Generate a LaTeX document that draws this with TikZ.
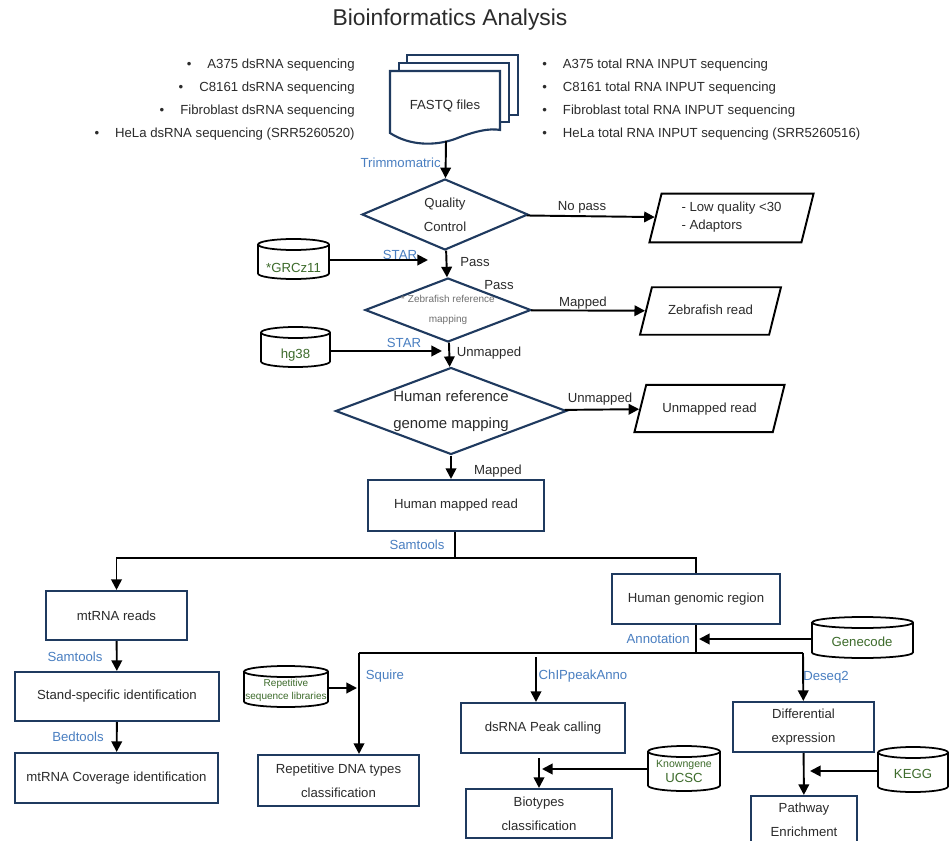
\documentclass[tikz,border=0pt]{standalone}
\usepackage{fontspec}
\setmainfont{Liberation Sans}
\usetikzlibrary{shapes.geometric,arrows.meta}

\definecolor{boxnavy}{HTML}{1F3A5F}
\definecolor{toolblue}{HTML}{4A7FC1}
\definecolor{dbgreen}{HTML}{3D6B2B}
\definecolor{bodygray}{HTML}{2B2B2B}
\definecolor{notegray}{HTML}{707070}

\tikzset{
  base/.style={font=\fontsize{7.5}{13.5}\selectfont, text=bodygray, inner sep=0pt, align=center},
  procbox/.style={base, draw=boxnavy, line width=1.2pt, rectangle},
  decision/.style={base, draw=boxnavy, line width=1.2pt, diamond, aspect=2.6},
  dataout/.style={base, draw=black, line width=1.1pt, trapezium, trapezium left angle=76, trapezium right angle=104,
    text height=5.5pt, text depth=1.5pt, inner ysep=6.3pt},
  dbslot/.style={rectangle, inner sep=0pt},
  dbline/.style={draw=black, fill=white, line width=1pt},
  dbname/.style={base, text=dbgreen},
  tool/.style={font=\fontsize{7.5}{9}\selectfont, text=toolblue, inner sep=0pt},
  edge/.style={font=\fontsize{7.5}{9}\selectfont, text=bodygray, inner sep=0pt},
  flow/.style={-{Triangle[length=6pt,width=6pt]}, line width=1.1pt},
}

% database drum: name, centre x, centre y, width, height (px)
\newcommand{\drum}[5]{%
  \node[dbslot, minimum width=#4*0.02cm, minimum height=#5*0.02cm] (#1) at (#2,#3) {};
  \filldraw[dbline] ({#2-#4/2},{#3-#5/2+5.5}) -- ({#2-#4/2},{#3+#5/2-5.5})
    arc[start angle=180, end angle=360, x radius=#4*0.01cm, y radius=0.11cm]
    -- ({#2+#4/2},{#3-#5/2+5.5})
    arc[start angle=0, end angle=180, x radius=#4*0.01cm, y radius=0.11cm]
    arc[start angle=180, end angle=360, x radius=#4*0.01cm, y radius=0.11cm];
}

\begin{document}
\begin{tikzpicture}[x=0.02cm, y=-0.02cm]
  \useasboundingbox (0,0) rectangle (950,841);
  \fill[white] (0,0) rectangle (950,841);

  \node[font=\fontsize{13}{15}\selectfont, text=bodygray] (title) at (450,20) {Bioinformatics Analysis};

  \node[base, align=right, anchor=east, font=\fontsize{7.5}{13.1}\selectfont] (dslist) at (355,100)
    {\textbullet\hspace{3.2mm}A375 dsRNA sequencing\\
     \textbullet\hspace{3.2mm}C8161 dsRNA sequencing\\
     \textbullet\hspace{3.2mm}Fibroblast dsRNA sequencing\\
     \textbullet\hspace{3.2mm}HeLa dsRNA sequencing (SRR5260520)};
  \node[base, align=left, anchor=west, font=\fontsize{7.5}{13.1}\selectfont] (inputlist) at (542,100)
    {\textbullet\hspace{3.2mm}A375 total RNA INPUT sequencing\\
     \textbullet\hspace{3.2mm}C8161 total RNA INPUT sequencing\\
     \textbullet\hspace{3.2mm}Fibroblast total RNA INPUT sequencing\\
     \textbullet\hspace{3.2mm}HeLa total RNA INPUT sequencing (SRR5260516)};

  \filldraw[fill=white, draw=boxnavy, line width=1.2pt] (407,55) rectangle (518,115);
  \filldraw[fill=white, draw=boxnavy, line width=1.2pt] (399,63) rectangle (509,122);
  \filldraw[fill=white, draw=boxnavy, line width=1.2pt] (390,71) -- (390,133)
    .. controls (410,146) and (435,146) .. (455,139)
    .. controls (475,131) and (490,128) .. (500,130) -- (500,71) -- cycle;
  \node[base] (fastq) at (445,106) {FASTQ files};
  \coordinate (fqbot) at (446,141);

  \node[decision, minimum width=3.32cm, minimum height=1.42cm] (qc) at (445,214.5) {Quality\\Control};
  \node[dataout, minimum width=3.30cm, align=left, text height=14.8pt, inner ysep=1.8pt] (lowq) at (731.5,218)
    {- Low quality <30\\[-3.3pt]- Adaptors};
  \node[decision, minimum width=3.32cm, minimum height=1.28cm, inner sep=-2pt, font=\fontsize{5.7}{11.5}\selectfont, text=notegray] (zeb) at (448,310)
    {* Zebrafish reference\\mapping};
  \node[dataout, minimum width=2.82cm] (zebread) at (710.5,311) {Zebrafish read};
  \node[decision, minimum width=4.62cm, minimum height=1.74cm, aspect=2.7, font=\fontsize{8.5}{15.5}\selectfont] (hum) at (451,411)
    {Human reference\\genome mapping};
  \node[dataout, minimum width=3.02cm, inner ysep=6.5pt] (unmread) at (709.5,408.5) {Unmapped read};

  \drum{grcz}{293.5}{259}{71}{40}
  \node[dbname] (grczname) at (293.5,268) {*GRCz11};
  \drum{hg}{295.5}{347}{69}{40}
  \node[dbname] (hgname) at (295.5,355) {hg38};
  \coordinate (star1) at (428,260);
  \coordinate (star2) at (442,351);

  \node[procbox, minimum width=3.52cm, minimum height=1.02cm] (hmr) at (456,505.5) {Human mapped read};
  \coordinate (split) at (455,558);
  \node[procbox, minimum width=2.82cm, minimum height=0.98cm] (mt) at (116.5,615.5) {mtRNA reads};
  \node[procbox, minimum width=4.08cm, minimum height=0.98cm] (ssi) at (117,696.5) {Stand-specific identification};
  \node[procbox, minimum width=4.06cm, minimum height=1.00cm] (cov) at (116.5,778) {mtRNA Coverage identification};
  \node[procbox, minimum width=3.36cm, minimum height=1.00cm] (hgr) at (696,599) {Human genomic region};
  \coordinate (annot) at (696,653);
  \coordinate (sqleft) at (359,653);
  \coordinate (deright) at (803,653);
  \coordinate (chiptop) at (536,657);

  \drum{gencode}{862.5}{637.5}{101}{41}
  \node[dbname] (gencodename) at (862,642) {Genecode};
  \coordinate (genend) at (699,639);
  \drum{replib}{286}{686.5}{84}{41}
  \node[dbname, font=\fontsize{5.7}{7.4}\selectfont] (replibname) at (286,690.5) {Repetitive\\sequence libraries};
  \coordinate (repend) at (357,688);

  \node[procbox, minimum width=3.22cm, minimum height=1.02cm] (rep) at (338.5,780.5) {Repetitive DNA types\\classification};
  \node[procbox, minimum width=3.28cm, minimum height=1.00cm] (peak) at (543,728) {dsRNA Peak calling};
  \node[procbox, minimum width=2.92cm, minimum height=0.98cm] (bio) at (539,813.5) {Biotypes\\classification};
  \node[procbox, minimum width=2.82cm, minimum height=1.00cm] (diff) at (803.5,727) {Differential\\expression};
  \node[procbox, minimum width=2.12cm, minimum height=0.96cm] (path) at (804,820) {Pathway\\Enrichment};

  \drum{ucsc}{684}{768.5}{72}{45}
  \node[dbname, font=\fontsize{7.5}{8.5}\selectfont] (ucscname) at (684,771) {{\fontsize{6}{7}\selectfont Knowngene}\\UCSC};
  \coordinate (ucscend) at (542,769);
  \drum{kegg}{913}{769.5}{70}{45}
  \node[dbname] (keggname) at (913,774) {KEGG};
  \coordinate (keggend) at (810,771);

  \node[tool, anchor=east] (trim) at (441,163) {Trimmomatric};
  \node[tool] (star1lab) at (400,255) {STAR};
  \node[tool] (star2lab) at (404,343) {STAR};
  \node[tool] (samt1) at (417,545) {Samtools};
  \node[tool] (samt2) at (75,657) {Samtools};
  \node[tool] (bedt) at (78,737) {Bedtools};
  \node[tool, anchor=east] (annolab) at (690,639) {Annotation};
  \node[tool] (squire) at (385,676) {Squire};
  \node[tool] (chiplab) at (583,676) {ChIPpeakAnno};
  \node[tool] (deseq) at (826,677) {Deseq2};

  \node[edge] (nopass) at (582,207) {No pass};
  \node[edge] (pass1) at (475,262) {Pass};
  \node[edge] (pass2) at (499,285) {Pass};
  \node[edge] (mapped1) at (583,303) {Mapped};
  \node[edge] (unm1) at (489,353) {Unmapped};
  \node[edge] (unm2) at (600,399) {Unmapped};
  \node[edge] (mapped2) at (498,471) {Mapped};

  \begin{scope}[flow]
    \draw (fqbot) -- (qc);
    \draw (qc) -- (lowq);
    \draw (qc) -- (zeb);
    \draw (grcz.east |- star1) -- (star1);
    \draw (zeb) -- (zebread);
    \draw (zeb) -- (hum);
    \draw (hg.east |- star2) -- (star2);
    \draw (hum) -- (unmread);
    \draw (hum.south) -- (hum.south |- hmr.north);
    \draw (split) -| (mt);
    \draw (mt) -- (ssi);
    \draw (ssi) -- (cov);
    \draw (gencode.west |- genend) -- (genend);
    \draw (replib.east |- repend) -- (repend);
    \draw (sqleft) -- (sqleft |- rep.north);
    \draw (chiptop) -- (chiptop |- peak.north);
    \draw (deright) -- (diff);
    \draw (peak.south -| bio) ++(0,4) -- (bio);
    \draw (ucsc.west |- ucscend) -- (ucscend);
    \draw (diff) -- (path);
    \draw (kegg.west |- keggend) -- (keggend);
  \end{scope}
  \begin{scope}[line width=1.1pt]
    \draw (hmr.south -| split) -- (split) -| (hgr);
    \draw (hgr.south -| annot) -- (annot);
    \draw (sqleft) -- (deright);
  \end{scope}
\end{tikzpicture}
\end{document}
